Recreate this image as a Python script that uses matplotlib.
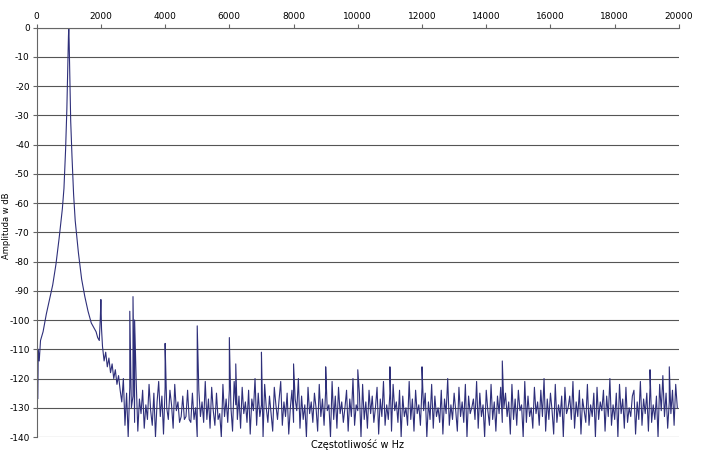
import numpy as np
import matplotlib
matplotlib.use('Agg')
from matplotlib import pyplot as plt

plt.rcParams['axes.unicode_minus'] = False

# low-frequency part: carrier at 1 kHz and its skirt
low_f = [0, 15, 30, 50, 80, 120, 200, 300, 400, 500, 600, 700, 800, 850, 900, 940, 970, 990, 1000,
         1010, 1030, 1060, 1100, 1150, 1200, 1300, 1400, 1500, 1600, 1700, 1800, 1850, 1900, 1950,
         1980, 2000, 2020, 2050, 2100, 2150, 2200, 2250, 2300, 2350, 2400, 2450, 2500, 2550]
low_db = [-56, -85, -127, -110, -114, -107, -104, -98, -93, -88, -81, -72, -62, -55, -42, -28, -12, -3, 0,
          -4, -16, -32, -44, -57, -66, -77, -86, -92, -97, -101, -103, -104, -106, -107,
          -100, -93, -103, -109, -114, -111, -116, -113, -118, -115, -120, -117, -122, -119]

# noise floor from 2600 Hz, 50 Hz step
noise_start = 2600
noise_step = 50
noise_db = [
    -124, -128, -120, -136, -125, -140, -123, -130, -126, -135, -121, -138, -127, -132, -124, -137, -129, -134, -122, -131,
    -136, -125, -140, -128, -121, -133, -126, -139, -123, -130, -134, -124, -129, -137, -122, -131, -128, -135, -133, -126,
    -134, -133, -124, -134, -135, -125, -134, -130, -140, -124, -133, -128, -135, -121, -134, -127, -137, -123, -131, -136,
    -125, -134, -132, -140, -122, -133, -127, -135, -124, -130, -138, -121, -129, -134, -126, -137, -123, -132, -128, -135,
    -124, -139, -127, -131, -120, -136, -125, -133, -129, -140, -122, -130, -135, -126, -132, -138, -123, -129, -134, -127,
    -121, -136, -128, -133, -125, -139, -130, -124, -135, -127, -131, -120, -137, -126, -134, -129, -140, -123, -132, -128,
    -135, -125, -130, -138, -122, -133, -127, -136, -124, -131, -129, -140, -121, -134, -126, -137, -123, -132, -128, -135,
    -130, -124, -138, -127, -133, -120, -136, -129, -131, -125, -140, -122, -134, -128, -137, -124, -132, -126, -135, -130,
    -123, -139, -127, -133, -121, -136, -129, -134, -125, -138, -122, -131, -128, -135, -124, -140, -126, -133, -130, -136,
    -121, -134, -127, -138, -124, -132, -129, -136, -123, -131, -125, -140, -128, -134, -122, -137, -126, -133, -130, -135,
    -124, -139, -127, -132, -120, -136, -129, -134, -125, -131, -138, -123, -133, -128, -135, -122, -140, -126, -132, -130,
    -127, -134, -121, -137, -125, -133, -129, -140, -124, -131, -136, -122, -134, -128, -138, -126, -132, -123, -135, -130,
    -125, -133, -128, -139, -122, -134, -127, -136, -124, -131, -129, -140, -121, -135, -126, -133, -130, -137, -123, -132,
    -128, -136, -124, -133, -120, -138, -127, -134, -125, -131, -139, -122, -135, -129, -133, -126, -140, -123, -132, -130,
    -126, -134, -121, -137, -128, -133, -124, -139, -127, -131, -135, -122, -136, -129, -133, -125, -140, -123, -134, -128,
    -131, -124, -138, -126, -133, -120, -136, -129, -134, -125, -140, -122, -132, -127, -137, -123, -135, -130, -133, -126,
    -124, -139, -128, -134, -121, -136, -127, -132, -125, -138, -123, -135, -129, -134, -126, -140, -122, -131, -119, -133,
    -125, -137, -128, -132, -124, -136, -122, -130,
]

# harmonic / spur peaks (freq, dB)
peak_f = [2900, 3000, 3050, 4000, 5000, 6000, 6200, 7000, 8000, 9000, 10000, 11000, 12000, 14500, 19100, 19700]
peak_db = [-97, -92, -100, -108, -102, -106, -115, -111, -115, -116, -117, -116, -116, -114, -117, -116]

noise_f = noise_start + noise_step * np.arange(len(noise_db))
f = np.concatenate([low_f, noise_f, peak_f])
db = np.concatenate([low_db, noise_db, peak_db])
order = np.argsort(f, kind='stable')
f, db = f[order], db[order]

fig = plt.figure(figsize=(7.05, 4.51), dpi=100)
ax = fig.add_axes([0.052, 0.031, 0.911, 0.908])
ax.plot(f, db, color='#2e2f7a', lw=0.8)
ax.set_xlim(0, 20000)
ax.set_ylim(-140, 0)
ax.set_xticks(np.arange(0, 20001, 2000))
ax.set_yticks(np.arange(-140, 1, 10))
ax.xaxis.tick_top()
ax.tick_params(labelsize=6.5, length=3, pad=2, color='#666666')
ax.yaxis.grid(True, color='#555555', lw=0.8)
for s in ['right', 'bottom']:
    ax.spines[s].set_visible(False)
for s in ['top', 'left']:
    ax.spines[s].set_color('#666666')
fig.text(0.009, 0.5, 'Amplituda w dB', rotation=90, ha='center', va='center', fontsize=6)
ax.text(0.5, -0.005, 'Częstotliwość w Hz', transform=ax.transAxes, ha='center', va='top', fontsize=7)
fig.savefig('out.png')
